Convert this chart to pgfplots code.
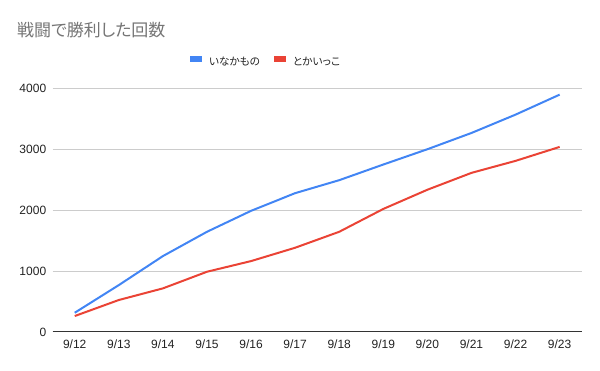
\documentclass[border=0pt]{standalone}
\usepackage{fontspec}
\setmainfont{Liberation Sans}
\newfontfamily\jp[RawFeature=+palt]{Noto Sans CJK JP}
\usepackage{pgfplots}
\pgfplotsset{compat=1.18}
\definecolor{gblue}{HTML}{4285F4}
\definecolor{gred}{HTML}{EA4335}
\definecolor{gridc}{HTML}{CCCCCC}
\definecolor{axisc}{HTML}{333333}
\definecolor{labc}{HTML}{222222}
\definecolor{titc}{HTML}{757575}
\begin{document}
\begin{tikzpicture}
\path[use as bounding box] (0bp,0bp) rectangle (600bp,371bp);
\node[anchor=west, inner sep=0pt, text=titc, font=\jp\fontsize{17bp}{20bp}\selectfont] at (17bp,341bp) {戦闘で勝利した回数};
\begin{axis}[
  at={(52.7bp,39bp)}, anchor=south west,
  scale only axis, width=529bp, height=243.7bp,
  xmin=-0.5, xmax=11.5, ymin=0, ymax=4000,
  xtick={0,1,2,3,4,5,6,7,8,9,10,11},
  xticklabels={9/12,9/13,9/14,9/15,9/16,9/17,9/18,9/19,9/20,9/21,9/22,9/23},
  ytick={0,1000,2000,3000,4000},
  scaled y ticks=false,
  /pgf/number format/1000 sep={},
  /pgf/number format/assume math mode=true,
  ticklabel style={font=\fontsize{12bp}{14bp}\selectfont, text=labc},
  xticklabel style={anchor=base, yshift=-16.3bp},
  yticklabel style={xshift=-3bp},
  major tick length=0pt,
  ymajorgrids, major grid style={draw=gridc, line width=1bp},
  axis x line*=bottom, axis y line*=left,
  x axis line style={-, draw=axisc, line width=1bp},
  y axis line style={draw=none},
  legend columns=2,
  legend style={at={(0.2596,1.110)}, anchor=west, draw=none, fill=none,
    inner sep=0pt, outer sep=0pt,
    font=\jp\fontsize{10.6bp}{13bp}\selectfont,
    nodes={inner sep=0pt, text=labc},
    /tikz/every odd column/.append style={column sep=7bp},
    /tikz/every even column/.append style={column sep=14bp}},
  legend image code/.code={\fill[#1] (0bp,0.3em-2bp) rectangle (10bp,0.3em+2bp);},
]
\addplot[gblue, line width=2bp] coordinates {
 (0,316) (1,770) (2,1246) (3,1645) (4,1989) (5,2279)
 (6,2492) (7,2749) (8,3000) (9,3267) (10,3568) (11,3896)};
\addlegendentry{いなかもの}
\addplot[gred, line width=2bp] coordinates {
 (0,262) (1,525) (2,716) (3,989) (4,1164) (5,1383)
 (6,1645) (7,2020) (8,2335) (9,2612) (10,2809) (11,3038)};
\addlegendentry{とかいっこ}
\end{axis}
\end{tikzpicture}
\end{document}
